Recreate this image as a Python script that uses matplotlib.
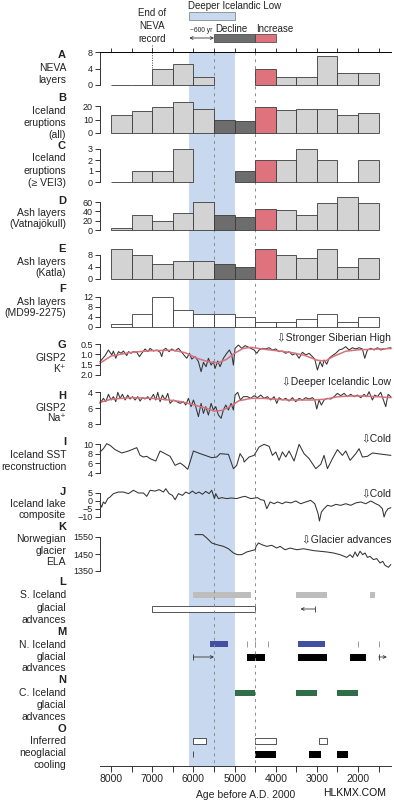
import matplotlib
matplotlib.use('Agg')
from matplotlib import pyplot as plt

plt.rcParams['font.family'] = ['Liberation Sans', 'DejaVu Sans']

# ---- data -------------------------------------------------------------
bin_centers = [7750, 7250, 6750, 6250, 5750, 5250, 4750, 4250, 3750, 3250, 2750, 2250, 1750]

neva_layers = [0, 0, 4, 5, 2, None, None, 4, 2, 2, 7, 3, 3]
eruptions_all = [13, 16, 19, 23, 18, 10, 9, 19, 17, 18, 18, 13, 15]
eruptions_vei3 = [0, 1, 1, 3, None, None, 1, 2, 2, 3, 2, 0, 2]
ash_vatna = [5, 32, 20, 37, 60, 32, 28, 44, 43, 32, 57, 70, 58]
ash_katla = [10, 8, 5, 6, 6, 5, 4, 10, 8, 7, 10, 4, 7]
ash_md99 = [1, 5, 12, 7, 5, 5, 4, 2, 2, 3, 5, 2, 4]

k_years = [8268, 8146, 8065, 7984, 7944, 7887, 7822, 7757, 7701, 7620, 7579, 7515, 7458,
           7377, 7312, 7255, 7174, 7110, 7053, 6972, 6891, 6810, 6770, 6729, 6672, 6591,
           6527, 6446, 6365, 6284, 6219, 6162, 6098, 6041, 5960, 5879, 5814, 5757, 5693,
           5636, 5571, 5515, 5474, 5409, 5353, 5272, 5191, 5126, 5069, 5029, 4988, 4907,
           4826, 4745, 4688, 4607, 4526, 4461, 4405, 4324, 4243, 4162, 4081, 4000, 3919,
           3838, 3757, 3676, 3595, 3514, 3433, 3352, 3271, 3190, 3109, 3052, 2988, 2923,
           2866, 2826, 2761, 2704, 2623, 2542, 2461, 2380, 2299, 2218, 2137, 2056, 1976,
           1895, 1838, 1773, 1692, 1611, 1530, 1449, 1368, 1287, 1206]
k_vals = [1.35, 1.06, 0.79, 1.03, 0.84, 1.19, 0.87, 0.95, 0.84, 1.06, 0.87, 0.95, 0.87,
          0.90, 1.11, 0.95, 0.74, 0.87, 0.71, 0.84, 0.79, 0.90, 1.11, 0.79, 0.71, 0.87,
          0.74, 0.84, 0.71, 0.90, 1.06, 1.19, 0.95, 1.23, 1.11, 1.35, 1.84, 1.39, 1.60,
          1.19, 1.52, 1.35, 1.68, 1.32, 1.60, 1.19, 0.95, 0.79, 1.03, 1.52, 0.71, 0.55,
          0.71, 0.58, 0.63, 0.71, 0.79, 0.95, 0.79, 0.71, 0.74, 0.68, 0.79, 0.74, 0.87,
          0.84, 0.95, 0.87, 1.03, 0.95, 1.19, 0.90, 1.03, 0.95, 1.11, 1.23, 1.76, 1.35,
          1.60, 1.27, 1.48, 1.19, 1.06, 0.95, 0.79, 0.74, 0.63, 0.79, 0.68, 0.74, 0.68,
          0.74, 1.19, 0.79, 0.71, 0.79, 0.68, 0.79, 0.74, 0.71, 0.68]
k_smooth_years = [8270, 8000, 7500, 7000, 6500, 6200, 5900, 5600, 5400, 5200, 5000, 4800,
                  4600, 4300, 4000, 3600, 3300, 3000, 2800, 2600, 2300, 2000, 1600, 1200]
k_smooth = [1.43, 1.08, 0.90, 0.82, 0.80, 0.92, 1.20, 1.38, 1.40, 1.25, 0.95, 0.72,
            0.66, 0.75, 0.82, 0.92, 1.05, 1.28, 1.33, 1.10, 0.85, 0.78, 0.75, 0.72]

na_years = [8268, 8187, 8130, 8065, 8000, 7944, 7887, 7838, 7782, 7725, 7660, 7596, 7539,
            7482, 7417, 7353, 7296, 7239, 7174, 7110, 7053, 6972, 6915, 6867, 6810, 6753,
            6689, 6624, 6567, 6486, 6405, 6324, 6243, 6187, 6122, 6057, 6000, 5944, 5879,
            5814, 5757, 5701, 5636, 5571, 5515, 5458, 5393, 5328, 5272, 5215, 5150, 5086,
            5029, 4988, 4924, 4859, 4786, 4688, 4607, 4526, 4445, 4364, 4283, 4202, 4121,
            4040, 3975, 3919, 3838, 3757, 3676, 3595, 3514, 3433, 3352, 3271, 3190, 3109,
            3052, 3004, 2947, 2891, 2826, 2745, 2664, 2583, 2502, 2421, 2340, 2259, 2178,
            2097, 2016, 1935, 1854, 1790, 1733, 1652, 1595, 1530, 1449, 1384, 1328, 1271, 1206]
na_vals = [5.42, 4.79, 5.21, 4.29, 5.00, 4.58, 5.21, 4.04, 4.79, 4.29, 5.00, 4.38, 4.88,
           4.58, 5.00, 4.58, 5.13, 4.71, 4.88, 4.58, 5.00, 4.29, 5.00, 4.04, 5.21, 4.38,
           5.00, 4.17, 5.42, 5.00, 5.21, 5.42, 5.21, 5.63, 4.79, 5.83, 5.00, 5.83, 7.08,
           5.42, 6.67, 5.83, 6.88, 5.42, 6.25, 5.83, 6.88, 7.29, 6.25, 5.63, 6.25, 5.42,
           6.25, 4.38, 4.04, 5.00, 4.58, 4.58, 4.79, 4.46, 4.71, 4.38, 4.79, 4.58, 5.00,
           4.58, 5.42, 4.71, 5.00, 4.79, 5.13, 4.71, 5.21, 4.79, 5.00, 4.71, 4.88, 4.71,
           5.00, 6.13, 5.00, 5.63, 5.00, 4.79, 4.88, 4.58, 4.17, 4.46, 4.17, 4.58, 4.29,
           4.58, 4.38, 4.71, 4.29, 4.58, 3.96, 5.00, 4.38, 4.58, 4.04, 5.00, 5.83, 4.29, 4.58]
na_smooth_years = [8270, 8000, 7500, 7000, 6600, 6300, 6000, 5700, 5500, 5300, 5100, 4900,
                   4600, 4300, 4000, 3700, 3400, 3100, 2800, 2500, 2200, 1900, 1500, 1200]
na_smooth = [5.3, 4.9, 4.7, 4.8, 5.0, 5.2, 5.6, 6.0, 6.4, 6.3, 5.8, 5.1,
             4.8, 4.8, 4.9, 5.0, 5.0, 5.0, 4.9, 4.6, 4.5, 4.5, 4.6, 4.7]

sst_years = [8268, 8187, 8106, 8025, 7903, 7741, 7579, 7377, 7296, 7215, 7134, 7053, 6915,
             6810, 6689, 6567, 6446, 6324, 6243, 6138, 6000, 5879, 5717, 5555, 5434, 5353,
             5150, 5029, 4948, 4867, 4786, 4769, 4648, 4526, 4405, 4283, 4162, 4081, 4000,
             3919, 3838, 3757, 3676, 3555, 3433, 3312, 3190, 3028, 2907, 2826, 2745, 2623,
             2502, 2380, 2299, 2194, 2056, 1976, 1895, 1773, 1652, 1530, 1206]
sst_vals = [8.35, 9.03, 10.07, 9.72, 8.83, 8.14, 8.55, 9.24, 7.65, 7.31, 7.45, 6.97, 6.48,
            8.55, 8.00, 7.45, 5.59, 6.07, 5.59, 4.76, 8.55, 8.14, 7.65, 7.17, 7.31, 8.00,
            7.86, 4.90, 5.59, 8.00, 6.97, 6.27, 7.31, 7.65, 9.38, 9.93, 9.52, 7.65, 8.35,
            6.62, 8.35, 7.31, 8.55, 6.48, 9.93, 8.00, 6.97, 4.90, 5.79, 7.65, 4.90, 6.97,
            8.83, 7.65, 8.55, 6.62, 8.00, 9.03, 7.31, 7.45, 8.14, 8.00, 7.65]

lake_years = [8268, 8230, 8190, 8146, 8081, 8025, 7944, 7822, 7701, 7579, 7458, 7336, 7215,
              7134, 7053, 6932, 6834, 6729, 6672, 6591, 6510, 6446, 6365, 6267, 6187, 6106,
              6025, 5944, 5863, 5782, 5701, 5620, 5555, 5490, 5458, 5393, 5312, 5191, 5069,
              4948, 4826, 4745, 4607, 4445, 4364, 4283, 4218, 4137, 4040, 3959, 3838, 3757,
              3636, 3514, 3393, 3271, 3150, 3052, 2972, 2939, 2891, 2826, 2745, 2648, 2542,
              2421, 2299, 2178, 2056, 1935, 1814, 1692, 1571, 1490, 1409, 1368, 1328, 1271, 1206]
lake_vals = [-1.7, -3.8, -0.6, -1.7, 1.5, 2.5, 4.6, 5.6, 5.6, 4.6, 6.7, 5.0, 5.0,
             2.9, 6.7, 6.2, 7.1, 5.6, 7.7, 4.6, 3.5, 0.8, 4.6, 3.5, 5.6, 4.6,
             6.2, 4.6, 5.6, 4.2, 6.0, 4.6, 6.7, 1.5, 4.6, 1.5, 2.1, 1.5, 1.9,
             1.5, 2.5, 2.9, 1.5, 2.1, 0.8, 0.4, -4.8, -0.6, -1.7, -0.6, -1.7, -0.6,
             -1.2, 0.0, -1.7, -0.6, 0.4, -1.7, -7.9, -12.5, -6.9, -4.8, -2.7, -3.3, -2.1,
             -2.7, -1.7, -2.7, -1.2, -0.6, -1.7, 0.0, -1.7, -2.7, -4.8, -10.0, -6.9, -4.8, -4.2]

ela_years = [5960, 5773, 5676, 5555, 5433, 5271, 5150, 5028, 4931, 4826, 4705, 4583, 4502,
             4478, 4421, 4340, 4219, 4097, 3976, 3895, 3773, 3652, 3490, 3328, 3085, 2923,
             2761, 2599, 2437, 2276, 2195, 2130, 2073, 2016, 1952, 1887, 1830, 1773, 1709,
             1628, 1547, 1466, 1401, 1344, 1263, 1207]
ela_vals = [1564, 1564, 1544, 1515, 1505, 1495, 1481, 1456, 1446, 1446, 1462, 1470, 1475,
            1495, 1515, 1505, 1495, 1501, 1485, 1495, 1475, 1485, 1475, 1481, 1470, 1466,
            1462, 1456, 1446, 1430, 1446, 1430, 1462, 1436, 1466, 1446, 1456, 1430, 1436,
            1417, 1423, 1397, 1407, 1383, 1372, 1387]

# glacial advance / cooling intervals (start, end in yr BP)
s_iceland_gray = [(6000, 4600), (3500, 2750), (1700, 1600)]
s_iceland_open = [(7000, 4500)]
n_iceland_blue = [(5600, 5150), (3450, 2800)]
n_iceland_ticks = [4700, 4500, 4200, 2000, 1500]
n_iceland_black = [(4700, 4250), (3450, 2750), (2200, 1800)]
c_iceland_green = [(5000, 4500), (3500, 3000), (2500, 2000)]
cooling_open = [(6000, 5700), (4500, 4000), (2950, 2750)]
cooling_black = [(4500, 4000), (3200, 2900), (2500, 2250)]

# ---- layout -----------------------------------------------------------
W, H = 394, 800
XL = (8270, 1200)
LIGHT, DARK, RED = '#d3d3d3', '#6d6d6d', '#df737d'
SHADE = '#c8d8ee'
EDGE = '#3a3a3a'

fig = plt.figure(figsize=(W / 100, H / 100), dpi=100)


def box(top, bot):
    return [100 / W, 1 - bot / H, 291 / W, (bot - top) / H]


bg = fig.add_axes([100 / W, 0, 291 / W, 1])
bg.set_xlim(XL)
bg.set_ylim(H, 0)
bg.axis('off')

# shaded interval + dashed markers
bg.fill_between([6100, 5000], 52, 766, color=SHADE, lw=0)
bg.vlines([5500, 4500], 52, 766, colors='#8c8c8c', linestyles=(0, (3, 4)), lw=0.7)
bg.vlines(7000, 45, 85, colors='#444444', linestyles=(0, (1, 1.5)), lw=0.7)

# top annotations
bg.text(6130, 6, 'Deeper Icelandic Low', fontsize=7, va='center', ha='left', color='#222222')
bg.barh(16, 5000 - 6100, left=6100, height=8, color=SHADE, edgecolor='#888888', lw=0.6)
bg.barh(38, 4500 - 5500, left=5500, height=8, color=DARK, edgecolor=EDGE, lw=0.5)
bg.barh(38, 4000 - 4500, left=4500, height=8, color=RED, edgecolor=EDGE, lw=0.5)
bg.text(5470, 29, 'Decline', fontsize=7, va='center', ha='left', color='#222222')
bg.text(4480, 29, 'Increase', fontsize=7, va='center', ha='left', color='#222222')
bg.text(6090, 30, '~600 yr', fontsize=4.8, va='center', ha='left', color='#222222')
bg.annotate('', xy=(5500, 38), xytext=(6100, 38),
            arrowprops=dict(arrowstyle='<->', lw=0.6, color='#333333',
                            shrinkA=0, shrinkB=0, mutation_scale=5))
bg.text(7000, 26, 'End of\nNEVA\nrecord', fontsize=7, ha='center', va='center',
        linespacing=1.35, color='#222222')

# lanes for panels L-O
for a, b in s_iceland_gray:
    bg.barh(595, b - a, left=a, height=6, color='#bdbdbd', lw=0)
for a, b in s_iceland_open:
    bg.barh(609, b - a, left=a, height=6, color='white', edgecolor=EDGE, lw=0.6)
bg.annotate('', xy=(3400, 609), xytext=(3050, 609),
            arrowprops=dict(arrowstyle='->', lw=0.6, color='#333333',
                            shrinkA=0, shrinkB=0, mutation_scale=5))
bg.vlines(3050, 606, 612, colors='#333333', lw=0.6)

for a, b in n_iceland_blue:
    bg.barh(644, b - a, left=a, height=6, color='#4150a0', lw=0)
bg.vlines(n_iceland_ticks, 641, 647, colors='#999999', lw=0.7)
for a, b in n_iceland_black:
    bg.barh(657, b - a, left=a, height=7, color='black', lw=0)
for a, b in [(6000, 5500), (1500, 1300)]:
    bg.annotate('', xy=(b, 657), xytext=(a, 657),
                arrowprops=dict(arrowstyle='->', lw=0.6, color='#333333',
                                shrinkA=0, shrinkB=0, mutation_scale=5))
    bg.vlines(a, 654, 660, colors='#333333', lw=0.6)

for a, b in c_iceland_green:
    bg.barh(693, b - a, left=a, height=6, color='#2f6e48', lw=0)

for a, b in cooling_open:
    bg.barh(741, b - a, left=a, height=6, color='white', edgecolor=EDGE, lw=0.6)
for a, b in cooling_black:
    bg.barh(754, b - a, left=a, height=7, color='black', lw=0)
bg.vlines(6000, 751, 757, colors='#333333', lw=0.6)


def panel(top, bot, ylim, yticks, yticklabels=None):
    ax = fig.add_axes(box(top, bot))
    ax.set_facecolor('none')
    ax.set_xlim(XL)
    ax.set_ylim(ylim)
    ax.set_yticks(yticks)
    if yticklabels is not None:
        ax.set_yticklabels(yticklabels)
    for s in ['top', 'right', 'bottom']:
        ax.spines[s].set_visible(False)
    ax.spines['left'].set_linewidth(0.7)
    ax.spines['left'].set_color('#333333')
    ax.tick_params(axis='y', length=3.5, width=0.7, labelsize=6.5, pad=1.5,
                   color='#333333', labelcolor='#222222')
    ax.set_xticks([])
    return ax


def colours(dark, red, base=LIGHT):
    return [DARK if i in dark else RED if i in red else base for i in range(len(bin_centers))]


def bars(ax, vals, cols):
    for c, v, col in zip(bin_centers, vals, cols):
        if v is None:
            continue
        ax.bar(c, v, width=500, color=col, edgecolor=EDGE, linewidth=0.6, clip_on=False)


axA = panel(52, 85, (0, 8), [0, 4, 8])
bars(axA, neva_layers, colours((), (7,)))
axA.spines['top'].set_visible(True)
axA.spines['top'].set_linewidth(0.7)
axA.xaxis.set_ticks_position('top')
axA.set_xticks(list(range(8000, 1000, -500)))
axA.tick_params(axis='x', direction='out', length=3, width=0.7, labeltop=False, color='#333333')

axB = panel(106, 133, (0, 20), [0, 10, 20])
bars(axB, eruptions_all, colours((5, 6), (7,)))

axC = panel(149, 182, (0, 3), [0, 1, 2, 3])
bars(axC, eruptions_vei3, colours((6,), (7,)))

axD = panel(202, 230, (0, 60), [0, 20, 40, 60])
bars(axD, ash_vatna, colours((5, 6), (7,)))

axE = panel(255, 279, (0, 8), [0, 4, 8])
bars(axE, ash_katla, colours((5, 6), (7,)))

axF = panel(297, 327, (0, 12), [0, 4, 8, 12])
bars(axF, ash_md99, ['white'] * len(bin_centers))

axG = panel(344, 375, (2.0, 0.5), [0.5, 1.0, 1.5, 2.0], ['0.5', '1.0', '1.5', '2.0'])
axG.plot(k_years, k_vals, color='#333333', lw=0.75, clip_on=False)
axG.plot(k_smooth_years, k_smooth, color='#d9707a', lw=1.1, clip_on=False)

axH = panel(392, 424, (8, 4), [4, 6, 8])
axH.plot(na_years, na_vals, color='#333333', lw=0.75, clip_on=False)
axH.plot(na_smooth_years, na_smooth, color='#d9707a', lw=1.1, clip_on=False)

axI = panel(444, 473, (4, 10), [4, 6, 8, 10])
axI.plot(sst_years, sst_vals, color='#333333', lw=0.75, clip_on=False)

axJ = panel(493, 517, (-10, 5), [-10, -5, 0, 5])
axJ.plot(lake_years, lake_vals, color='#333333', lw=0.75, clip_on=False)

axK = panel(537, 571, (1350, 1550), [1350, 1450, 1550])
axK.plot(ela_years, ela_vals, color='#333333', lw=0.75, clip_on=False)

# bottom age axis
axX = fig.add_axes(box(765, 766))
axX.set_facecolor('none')
axX.set_xlim(XL)
axX.set_yticks([])
for s in ['top', 'right', 'left']:
    axX.spines[s].set_visible(False)
axX.spines['bottom'].set_linewidth(0.7)
axX.spines['bottom'].set_color('#333333')
axX.set_xticks([8000, 7000, 6000, 5000, 4000, 3000, 2000])
axX.set_xticks(list(range(7500, 1000, -1000)), minor=True)
axX.tick_params(axis='x', which='both', length=4, width=0.7, labelsize=7.5, pad=2,
                color='#333333', labelcolor='#222222')
axX.set_xlabel('Age before A.D. 2000', fontsize=7.5, labelpad=4, color='#222222')

# panel labels
labels = [
    ('A', 55, ['NEVA', 'layers'], [68, 80]),
    ('B', 98, ['Iceland', 'eruptions', '(all)'], [111, 123, 135]),
    ('C', 146, ['Iceland', 'eruptions', '(\u2265 VEI3)'], [158, 171, 183]),
    ('D', 201, ['Ash layers', '(Vatnaj\u00f6kull)'], [213, 224]),
    ('E', 249, ['Ash layers', '(Katla)'], [262, 273]),
    ('F', 289, ['Ash layers', '(MD99-2275)'], [302, 313]),
    ('G', 345, ['GISP2', 'K\u207a'], [358, 369]),
    ('H', 396, ['GISP2', 'Na\u207a'], [408, 418]),
    ('I', 442, ['Iceland SST', 'reconstruction'], [455, 467]),
    ('J', 492, ['Iceland lake', 'composite'], [504, 515]),
    ('K', 527, ['Norwegian', 'glacier', 'ELA'], [539, 551, 562]),
    ('L', 582, ['S. Iceland', 'glacial', 'advances'], [595, 608, 620]),
    ('M', 632, ['N. Iceland', 'glacial', 'advances'], [645, 657, 668]),
    ('N', 680, ['C. Iceland', 'glacial', 'advances'], [693, 705, 717]),
    ('O', 729, ['Inferred', 'neoglacial', 'cooling'], [741, 753, 765]),
]
for letter, ly, lines, ys in labels:
    fig.text(66 / W, 1 - ly / H, letter, fontsize=8, fontweight='bold',
             ha='right', va='center', color='#222222')
    for t, y in zip(lines, ys):
        fig.text(66 / W, 1 - y / H, t, fontsize=7.5, ha='right', va='center', color='#222222')

notes = [('\u21e9Stronger Siberian High', 338), ('\u21e9Deeper Icelandic Low', 382),
         ('\u21e9Cold', 438), ('\u21e9Cold', 493), ('\u21e9Glacier advances', 539)]
for t, y in notes:
    fig.text(391 / W, 1 - y / H, t, fontsize=7.5, ha='right', va='center', color='#222222')

fig.text(355 / W, 1 - 793 / H, 'HLKMX.COM', fontsize=7.5, ha='center', va='center', color='#111111')

fig.savefig('out.png', dpi=100)
